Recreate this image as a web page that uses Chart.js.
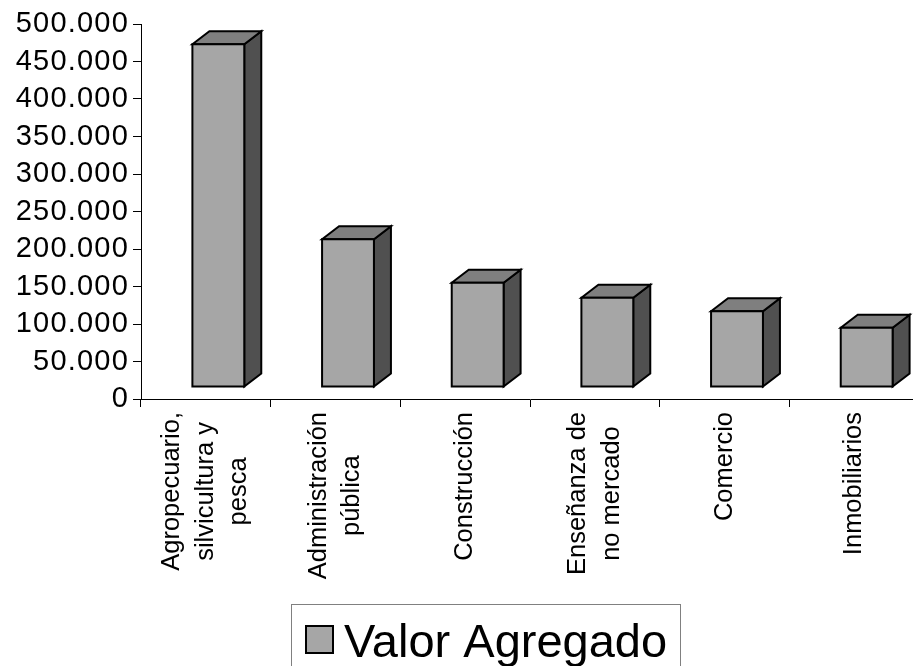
<!DOCTYPE html>
<html>
<head>
<meta charset="utf-8">
<script src="https://cdn.jsdelivr.net/npm/chart.js@4/dist/chart.umd.min.js"></script>
<style>
  html, body { margin: 0; padding: 0; background: #fff; overflow: hidden; }
  #wrap { width: 913px; height: 666px; overflow: hidden; position: relative; }
  canvas { display: block; }
</style>
</head>
<body>
<div id="wrap"><canvas id="c" width="922" height="666"></canvas></div>
<script>
// Sectors (multi-line labels) and their value added
const categories = [
  ['Agropecuario,', 'silvicultura y', 'pesca'],
  ['Administración', 'pública'],
  ['Construcción'],
  ['Enseñanza de', 'no mercado'],
  ['Comercio'],
  ['Inmobiliarios']
];
const valorAgregado = [457000, 197000, 139000, 119000, 101000, 79000];
const seriesName = 'Valor Agregado';
const yMin = 0;
const yMax = 500000;
const yStep = 50000;

const FONT = "'Liberation Sans', Arial, Helvetica, sans-serif";
const FRONT = '#a6a6a6', TOP = '#7f7f7f', SIDE = '#505050';
const DEPTH_X = 17, DEPTH_Y = 13;      // extrusion of each column
const FLOOR_X = 12.5, FLOOR_Y = 12;    // columns sit back on the floor

function thousands(v) {
  return String(v).replace(/\B(?=(\d{3})+(?!\d))/g, '.');
}

// 3-D columns drawn from the bar elements' geometry
const columns3d = {
  id: 'columns3d',
  beforeDraw(chart) { chart.ctx.letterSpacing = '1.2px'; },
  beforeDatasetsDraw(chart) { chart.ctx.letterSpacing = '0px'; },
  afterDatasetsDraw(chart) {
    const ctx = chart.ctx;
    const meta = chart.getDatasetMeta(0);
    ctx.save();
    ctx.letterSpacing = '0px';
    ctx.lineWidth = 2;
    ctx.lineJoin = 'miter';
    ctx.strokeStyle = '#000';
    meta.data.forEach(el => {
      const p = el.getProps(['x', 'y', 'base', 'width'], true);
      const x0 = p.x - p.width / 2 + FLOOR_X;
      const x1 = x0 + p.width;
      const yT = p.y - FLOOR_Y;
      const yB = p.base - FLOOR_Y;
      // side
      ctx.beginPath();
      ctx.moveTo(x1, yT); ctx.lineTo(x1 + DEPTH_X, yT - DEPTH_Y);
      ctx.lineTo(x1 + DEPTH_X, yB - DEPTH_Y); ctx.lineTo(x1, yB); ctx.closePath();
      ctx.fillStyle = SIDE; ctx.fill(); ctx.stroke();
      // top
      ctx.beginPath();
      ctx.moveTo(x0, yT); ctx.lineTo(x0 + DEPTH_X, yT - DEPTH_Y);
      ctx.lineTo(x1 + DEPTH_X, yT - DEPTH_Y); ctx.lineTo(x1, yT); ctx.closePath();
      ctx.fillStyle = TOP; ctx.fill(); ctx.stroke();
      // front
      ctx.beginPath();
      ctx.rect(x0, yT, p.width, yB - yT);
      ctx.fillStyle = FRONT; ctx.fill(); ctx.stroke();
    });
    ctx.restore();
  },
  afterDraw(chart) {
    const ctx = chart.ctx;
    const xs = chart.scales.x;
    ctx.save();
    ctx.letterSpacing = '0px';
    ctx.fillStyle = '#000';
    // rotated category labels, lines centred on each other
    ctx.font = '25.5px ' + FONT;
    const lh = 33.5;
    const topY = 412;
    chart.data.labels.forEach((lines, i) => {
      const cx = xs.getPixelForValue(i);
      const w = Math.max(...lines.map(l => ctx.measureText(l).width));
      lines.forEach((line, k) => {
        ctx.save();
        ctx.translate(cx + (k - (lines.length - 1) / 2) * lh, topY + w / 2);
        ctx.rotate(-Math.PI / 2);
        ctx.textAlign = 'center';
        ctx.textBaseline = 'middle';
        ctx.fillText(line, 0, 0);
        ctx.restore();
      });
    });
    // legend box
    const ds = chart.data.datasets[0];
    ctx.strokeStyle = '#808080';
    ctx.lineWidth = 1;
    ctx.strokeRect(291.5, 604.5, 389, 70);
    ctx.fillStyle = FRONT;
    ctx.fillRect(306, 626, 27, 27);
    ctx.strokeStyle = '#000';
    ctx.lineWidth = 2;
    ctx.strokeRect(306, 626, 27, 27);
    ctx.fillStyle = '#000';
    ctx.font = '47px ' + FONT;
    ctx.textAlign = 'left';
    ctx.textBaseline = 'alphabetic';
    ctx.fillText(ds.label, 344, 657);
    ctx.restore();
  }
};

new Chart(document.getElementById('c'), {
  type: 'bar',
  data: {
    labels: categories,
    datasets: [{
      label: seriesName,
      data: valorAgregado,
      backgroundColor: 'rgba(0,0,0,0)',
      borderWidth: 0,
      categoryPercentage: 1,
      barPercentage: 0.4
    }]
  },
  options: {
    responsive: false,
    animation: false,
    events: [],
    layout: { padding: { top: 24, right: 3, left: 0, bottom: 0 } },
    plugins: { legend: { display: false }, tooltip: { enabled: false } },
    scales: {
      x: {
        ticks: { display: false },
        grid: { display: true, drawOnChartArea: false, drawTicks: true, tickLength: 8, color: '#000', offset: true },
        border: { display: true, color: '#000', width: 1 },
        afterFit(s) { s.height = 267; }
      },
      y: {
        min: yMin,
        max: yMax,
        ticks: {
          stepSize: yStep,
          autoSkip: false,
          padding: 4,
          color: '#000',
          font: { family: FONT, size: 29 },
          callback: v => thousands(v)
        },
        grid: { drawOnChartArea: false, drawTicks: true, tickLength: 8, color: '#000' },
        border: { display: true, color: '#000', width: 1 },
        afterFit(s) { s.width = 141; }
      }
    }
  },
  plugins: [columns3d]
});
</script>
</body>
</html>
